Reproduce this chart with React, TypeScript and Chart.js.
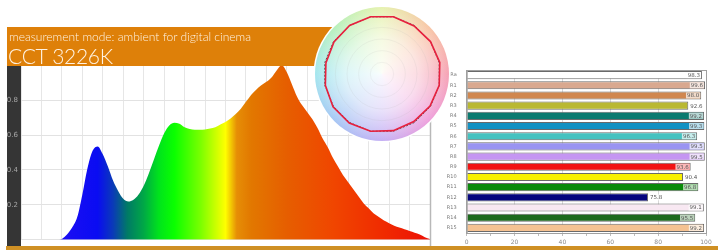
import React, { useEffect, useRef } from "react";
import { Chart, registerables } from "chart.js";

Chart.register(...registerables);

// ---------- Spectrum (relative spectral power) ----------
const wavelengths = [
  380, 415, 420, 425, 430, 435, 440, 445, 450, 455, 460, 465, 470, 475, 480, 485, 490, 495, 500,
  505, 510, 515, 520, 525, 530, 535, 540, 545, 550, 555, 560, 565, 570, 575, 580, 585, 590, 595,
  600, 605, 610, 615, 620, 625, 630, 635, 640, 645, 650, 655, 660, 665, 670, 675, 680, 685, 690,
  695, 700, 705, 710, 715, 720, 725, 730, 735, 740, 745, 750, 755, 760, 765, 770, 775, 780,
];
const intensity = [
  0, 0, 0.005, 0.03, 0.07, 0.13, 0.26, 0.41, 0.51, 0.535, 0.49, 0.42, 0.34, 0.28, 0.235, 0.22,
  0.23, 0.26, 0.31, 0.38, 0.46, 0.54, 0.61, 0.655, 0.67, 0.665, 0.645, 0.635, 0.63, 0.63, 0.632,
  0.637, 0.645, 0.66, 0.675, 0.695, 0.72, 0.75, 0.79, 0.83, 0.86, 0.885, 0.905, 0.93, 0.97, 1.0,
  0.96, 0.89, 0.82, 0.77, 0.73, 0.69, 0.64, 0.58, 0.53, 0.47, 0.42, 0.37, 0.33, 0.29, 0.25, 0.21,
  0.18, 0.15, 0.13, 0.11, 0.095, 0.08, 0.07, 0.06, 0.05, 0.04, 0.03, 0.015, 0.005,
];
const spectrumTickLabels = [0.2, 0.4, 0.6, 0.8];

// ---------- Colour rendering indices ----------
const criLabels = ["Ra", "R1", "R2", "R3", "R4", "R5", "R6", "R7", "R8", "R9", "R10", "R11", "R12", "R13", "R14", "R15"];
const criValues = [98.3, 99.6, 98.0, 92.6, 99.2, 99.3, 96.3, 99.5, 99.5, 93.6, 90.4, 96.8, 75.8, 99.1, 95.5, 99.2];
const criColors = [
  "#ffffff", "#d9a88f", "#d0874f", "#b9b832", "#0b7a70", "#1291c2", "#45c2c0", "#9a94f2",
  "#c596f2", "#f21212", "#f8f000", "#0a8a0a", "#05057e", "#f8e8f2", "#1c6a1c", "#f5c292",
];

// ---------- Colour vector graphic (16 hue bins) ----------
const hueBins = ["1", "2", "3", "4", "5", "6", "7", "8", "9", "10", "11", "12", "13", "14", "15", "16"];
const referenceRadius = [1, 1, 1, 1, 1, 1, 1, 1, 1, 1, 1, 1, 1, 1, 1, 1];
const testRadius = [1.0, 0.99, 1.0, 1.01, 1.0, 0.99, 0.98, 0.99, 1.0, 1.01, 1.01, 0.99, 0.98, 0.99, 1.0, 1.0];

const spectrumStops: [number, string][] = [
  [420, "#1c0ef4"], [455, "#0a0cf2"], [470, "#0a3ab8"], [484, "#007a66"], [500, "#00a846"],
  [515, "#00e41c"], [530, "#0aff00"], [556, "#7cff00"], [580, "#ffff00"], [591, "#e68e06"],
  [605, "#e27800"], [640, "#e65e00"], [685, "#f04600"], [735, "#f02a00"], [780, "#ec1006"],
];

export default function App() {
  const specRef = useRef<HTMLCanvasElement>(null);
  const barRef = useRef<HTMLCanvasElement>(null);
  const polarRef = useRef<HTMLCanvasElement>(null);

  useEffect(() => {
    const charts: Chart[] = [];

    // Spectrum chart
    const darkBar = {
      id: "darkBar",
      beforeDraw(chart: any) {
        const c = chart.ctx;
        const a = chart.chartArea;
        c.save();
        c.fillStyle = "#353535";
        c.fillRect(0, 0, a.left, chart.height);
        c.restore();
      },
      afterDraw(chart: any) {
        const c = chart.ctx;
        const a = chart.chartArea;
        c.save();
        c.strokeStyle = "#b8b8b8";
        c.lineWidth = 1.5;
        c.beginPath();
        c.moveTo(a.right + 0.5, a.top);
        c.lineTo(a.right + 0.5, chart.height);
        c.stroke();
        c.restore();
      },
    };
    charts.push(
      new Chart(specRef.current!, {
        type: "line",
        data: {
          datasets: [
            {
              data: wavelengths.map((w, i) => ({ x: w, y: intensity[i] })),
              fill: "origin",
              borderWidth: 0,
              pointRadius: 0,
              cubicInterpolationMode: "monotone",
              backgroundColor: (ctx: any) => {
                const chart = ctx.chart;
                const area = chart.chartArea;
                if (!area) return "#e06000";
                const xs = chart.scales.x;
                const g = chart.ctx.createLinearGradient(area.left, 0, area.right, 0);
                const span = area.right - area.left;
                spectrumStops.forEach(([w, col]) => {
                  const p = (xs.getPixelForValue(w) - area.left) / span;
                  g.addColorStop(Math.min(1, Math.max(0, p)), col);
                });
                return g;
              },
            },
          ],
        },
        options: {
          animation: false,
          responsive: false,
          devicePixelRatio: 1,
          layout: { padding: { top: 4, right: 2, bottom: 1, left: 0 } },
          plugins: { legend: { display: false }, tooltip: { enabled: false } },
          scales: {
            x: {
              type: "linear",
              min: 380,
              max: 780,
              ticks: { display: false, stepSize: 20 },
              grid: { color: "#e6e6e6", drawTicks: false },
              border: { display: false },
              afterFit: (s: any) => {
                s.height = 0;
              },
            },
            y: {
              min: 0,
              max: 1,
              ticks: {
                stepSize: 0.2,
                padding: 3,
                color: "#a8a8a8",
                font: { size: 7, family: "DejaVu Sans" },
                callback: (v: any) => {
                  const f = spectrumTickLabels.find((t) => Math.abs(t - Number(v)) < 1e-6);
                  return f !== undefined ? f.toFixed(1) : "";
                },
              },
              grid: { color: "#e2e2e2", drawTicks: false },
              border: { display: false },
              afterFit: (s: any) => {
                s.width = 14;
              },
            },
          },
        },
        plugins: [darkBar],
      } as any)
    );

    // CRI bar chart
    const frameAndLabels = {
      id: "frameAndLabels",
      afterDatasetsDraw(chart: any) {
        const c = chart.ctx;
        const a = chart.chartArea;
        const meta = chart.getDatasetMeta(0);
        c.save();
        c.font = "5.5px 'DejaVu Sans'";
        c.textBaseline = "middle";
        c.textAlign = "left";
        meta.data.forEach((bar: any, i: number) => {
          const t = criValues[i].toFixed(1);
          const w = c.measureText(t).width + 2;
          const end = bar.x;
          let x0 = end + 1;
          if (x0 + w > a.right - 1) x0 = end - w - 1;
          c.fillStyle = "rgba(255,255,255,0.7)";
          c.fillRect(x0, bar.y - 3, w, 6);
          c.fillStyle = "#555";
          c.fillText(t, x0 + 1, bar.y + 0.5);
        });
        c.strokeStyle = "#a0a0a0";
        c.lineWidth = 1;
        c.strokeRect(a.left + 0.5, a.top + 0.5, a.right - a.left, a.bottom - a.top);
        c.restore();
      },
    };
    charts.push(
      new Chart(barRef.current!, {
        type: "bar",
        data: {
          labels: criLabels,
          datasets: [
            {
              data: criValues,
              backgroundColor: criColors,
              borderColor: "#6a6a6a",
              borderWidth: 1,
              barPercentage: 0.8,
              categoryPercentage: 1,
            },
          ],
        },
        options: {
          indexAxis: "y",
          animation: false,
          responsive: false,
          devicePixelRatio: 1,
          layout: { padding: { top: 12, right: 12, bottom: 0, left: 0 } },
          plugins: { legend: { display: false }, tooltip: { enabled: false } },
          scales: {
            x: {
              min: 0,
              max: 100,
              ticks: {
                stepSize: 10,
                padding: 3,
                color: "#8a8a8a",
                font: { size: 6, family: "DejaVu Sans" },
                callback: (v: any) => (Number(v) % 20 === 0 ? String(v) : ""),
              },
              grid: {
                color: (ctx: any) => (ctx.tick && ctx.tick.value % 20 === 0 ? "#d8d8d8" : "rgba(0,0,0,0)"),
                tickColor: "#bdbdbd",
                tickLength: 3,
              },
              border: { color: "#a0a0a0" },
              afterFit: (s: any) => {
                s.height = 13;
              },
            },
            y: {
              ticks: {
                autoSkip: false,
                padding: 2,
                color: "#7a7a7a",
                font: { size: 5, family: "DejaVu Sans" },
              },
              grid: { display: false },
              border: { color: "#a0a0a0" },
              afterFit: (s: any) => {
                s.width = 34.7;
              },
            },
          },
        },
        plugins: [frameAndLabels],
      } as any)
    );

    // Colour vector graphic
    const hueDisc = {
      id: "hueDisc",
      beforeDraw(chart: any) {
        const r = chart.scales.r;
        const x = r.xCenter;
        const y = r.yCenter;
        const c = chart.ctx as CanvasRenderingContext2D;
        const R = 67;
        c.save();
        c.beginPath();
        c.arc(x, y, R + 1.5, 0, Math.PI * 2);
        c.fillStyle = "#ffffff";
        c.fill();
        const g = (c as any).createConicGradient(0, x, y);
        g.addColorStop(0, "#f6a2b4");
        g.addColorStop(0.125, "#eea0dc");
        g.addColorStop(0.25, "#c4b0f4");
        g.addColorStop(0.375, "#a6c6f4");
        g.addColorStop(0.5, "#a4e6ee");
        g.addColorStop(0.625, "#b8f0bc");
        g.addColorStop(0.75, "#e6f2b0");
        g.addColorStop(0.875, "#f8c6a6");
        g.addColorStop(1, "#f6a2b4");
        c.beginPath();
        c.arc(x, y, R, 0, Math.PI * 2);
        c.fillStyle = g;
        c.fill();
        const rg = c.createRadialGradient(x, y, 0, x, y, R);
        rg.addColorStop(0, "rgba(255,255,255,0.92)");
        rg.addColorStop(0.55, "rgba(255,255,255,0.62)");
        rg.addColorStop(0.85, "rgba(255,255,255,0.25)");
        rg.addColorStop(1, "rgba(255,255,255,0)");
        c.fillStyle = rg;
        c.fill();
        c.restore();
      },
    };
    charts.push(
      new Chart(polarRef.current!, {
        type: "radar",
        data: {
          labels: hueBins,
          datasets: [
            { data: testRadius, borderColor: "#e8203e", borderWidth: 1.6, pointRadius: 0, fill: false },
            {
              data: referenceRadius,
              borderColor: "#303030",
              borderWidth: 0.8,
              borderDash: [2, 1.5],
              pointRadius: 0,
              fill: false,
            },
          ],
        },
        options: {
          animation: false,
          responsive: false,
          devicePixelRatio: 1,
          layout: { padding: 0 },
          plugins: { legend: { display: false }, tooltip: { enabled: false } },
          scales: {
            r: {
              min: 0,
              max: 1.2,
              startAngle: 11.25,
              ticks: { display: false, stepSize: 0.2 },
              grid: {
                circular: true,
                color: (ctx: any) => (ctx.tick && ctx.tick.value > 1.05 ? "rgba(0,0,0,0)" : "rgba(170,170,170,0.13)"),
              },
              angleLines: { display: false },
              pointLabels: { display: false },
            },
          },
        },
        plugins: [hueDisc],
      } as any)
    );

    return () => charts.forEach((ch) => ch.destroy());
  }, []);

  return (
    <div style={{ position: "absolute", left: 0, top: 0, width: 718, height: 250, background: "#ffffff", overflow: "hidden" }}>
      <canvas
        ref={specRef}
        width={425}
        height={189}
        style={{ position: "absolute", left: 7, top: 58, width: 425, height: 189, zIndex: 1 }}
      />
      <canvas
        ref={barRef}
        width={286}
        height={188}
        style={{ position: "absolute", left: 432, top: 58, width: 286, height: 188, zIndex: 1 }}
      />
      <div
        style={{
          position: "absolute",
          left: 7,
          top: 27,
          width: 345,
          height: 39,
          background: "#de8009",
          zIndex: 2,
          color: "#fff2e2",
          fontFamily: "Lato, 'Open Sans', sans-serif",
          fontWeight: 300,
        }}
      >
        <div style={{ position: "absolute", left: 2, top: 3, fontSize: 12, lineHeight: "14px", whiteSpace: "nowrap" }}>
          measurement mode: ambient for digital cinema
        </div>
        <div
          style={{
            position: "absolute",
            left: 1,
            top: 17,
            fontSize: 21,
            lineHeight: "23px",
            letterSpacing: -0.3,
            whiteSpace: "nowrap",
          }}
        >
          CCT 3226K
        </div>
      </div>
      <canvas
        ref={polarRef}
        width={140}
        height={140}
        style={{ position: "absolute", left: 312, top: 4, width: 140, height: 140, zIndex: 3 }}
      />
      <div style={{ position: "absolute", left: 6, top: 246, width: 712, height: 4, background: "#cf9024", zIndex: 4 }} />
    </div>
  );
}
